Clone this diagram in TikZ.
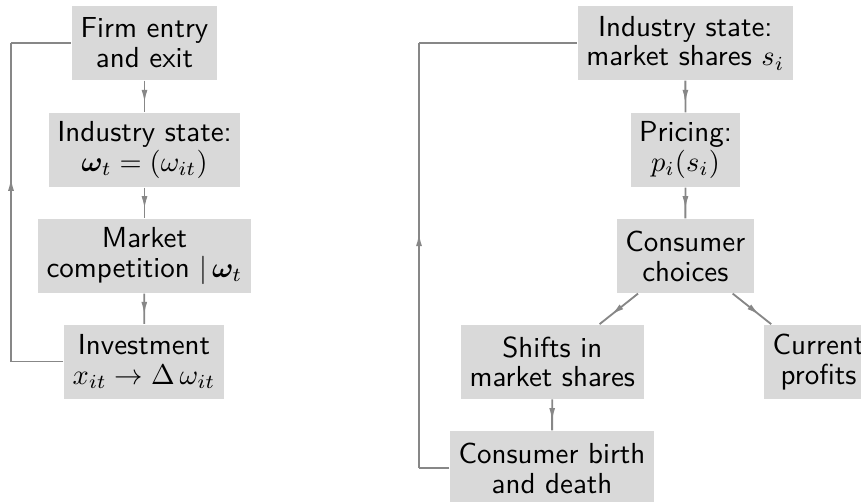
\documentclass[tikz,border=0pt]{standalone}
\usepackage{amsmath,bm}
\usetikzlibrary{arrows.meta,decorations.markings}
\definecolor{boxgray}{RGB}{217,217,217}
\definecolor{linegray}{RGB}{135,135,135}
\def\pxu{0.352pt}
\begin{document}
\begin{tikzpicture}[x=0.352pt,y=-0.352pt,
 box/.style={fill=boxgray, inner sep=0pt, align=center, minimum height=74*\pxu,
   font=\sffamily\fontsize{10.2}{10.5}\selectfont},
 conn/.style={draw=linegray, line width=0.65pt},
 midarr/.style={conn, postaction={decorate}, decoration={markings,
   mark=at position #1 with {\arrow[linegray]{Latex[length=4.6pt,width=2.1pt]}}}},
 midarr/.default=0.7]
\useasboundingbox (0,0) rectangle (861,501);
\clip (0,0) rectangle (861,501);
% left diagram
\node[box, minimum width=145*\pxu] (fe) at (144.5,43) {Firm entry\\and exit};
\node[box, minimum width=191*\pxu] (is) at (144.5,150) {Industry state:\\$\boldsymbol{\omega}_t = (\omega_{it})$};
\node[box, minimum width=213*\pxu] (mc) at (144.5,256) {Market\\competition $|\,\boldsymbol{\omega}_t$};
\node[box, minimum width=160*\pxu] (inv) at (144,361.5) {Investment\\$x_{it}\rightarrow\Delta\,\omega_{it}$};
\coordinate (L1) at (11,43);
\coordinate (L2) at (11,361.5);
\draw[midarr] (fe) -- (is);
\draw[midarr] (is) -- (mc);
\draw[midarr] (mc) -- (inv);
\draw[conn] (inv.west) -- (L2);
\draw[midarr=0.577] (L2) -- (L1);
\draw[conn] (L1) -- (fe.west);
% right diagram
\node[box, minimum width=215*\pxu] (rs) at (685.3,43) {Industry state:\\market shares $s_i$};
\node[box, minimum width=109*\pxu] (pr) at (685.5,150) {Pricing:\\$p_i(s_i)$};
\node[box, minimum width=137*\pxu] (cc) at (685.3,256) {Consumer\\choices};
\node[box, minimum width=183*\pxu] (sh) at (552.3,361.7) {Shifts in\\market shares};
\node[box, minimum width=109*\pxu] (cp) at (818.5,361.7) {Current\\profits};
\node[box, minimum width=204*\pxu] (cb) at (552,468) {Consumer birth\\and death};
\coordinate (R1) at (419,43);
\coordinate (R2) at (419,468);
\draw[midarr] (rs) -- (pr);
\draw[midarr] (pr) -- (cc);
\draw[midarr] (cc) -- (sh);
\draw[midarr] (cc) -- (cp);
\draw[midarr] (sh) -- (cb);
\draw[conn] (cb.west) -- (R2);
\draw[midarr=0.553] (R2) -- (R1);
\draw[conn] (R1) -- (rs.west);
\end{tikzpicture}
\end{document}
